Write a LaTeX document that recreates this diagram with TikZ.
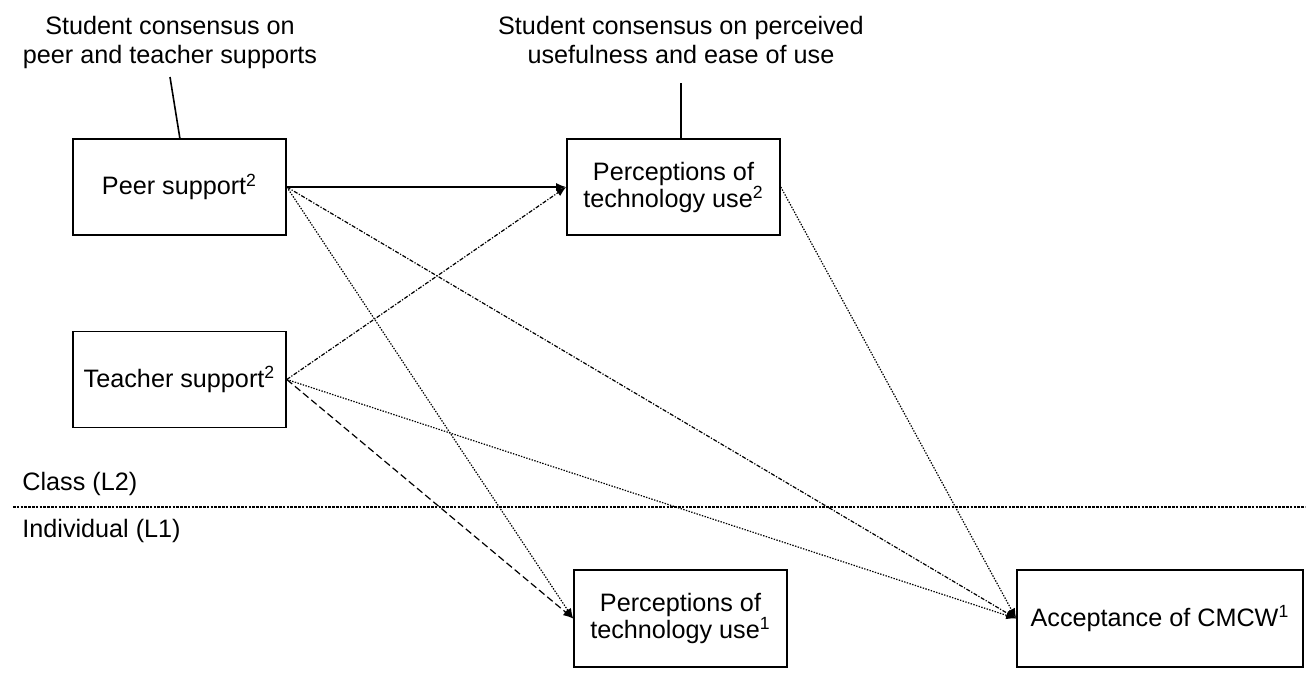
\documentclass[tikz,border=0pt]{standalone}
\usepackage{fontspec}
\setmainfont{Liberation Sans}
\usetikzlibrary{arrows.meta}
\begin{document}
\begin{tikzpicture}[x=0.5pt,y=-0.5pt,
  txt/.style={font=\fontsize{12.6}{14.5}\selectfont, inner sep=0pt, align=center},
  box/.style={draw, line width=0.8pt, minimum width=#1, minimum height=48pt,
    align=center, inner sep=0pt, font=\fontsize{12.6}{13.5}\selectfont},
  box/.default=106.5pt,
  arr/.style={-{Latex[length=5pt,width=4pt]}},
  link/.style={line width=0.8pt},
  fine/.style={line width=0.6pt, dash pattern=on 0.7pt off 0.7pt},
  dashdot/.style={line width=0.6pt, dash pattern=on 2pt off 0.8pt on 0.6pt off 0.8pt},
  dashlong/.style={line width=0.6pt, dash pattern=on 3.5pt off 1.8pt},
  sep/.style={line width=0.7pt, dash pattern=on 1.3pt off 0.6pt}
]
\useasboundingbox (0,0) rectangle (1312,677);

% text labels
\node[txt] (lab1) at (170,42) {Student consensus on\\peer and teacher supports};
\node[txt] (lab2) at (681,40) {Student consensus on perceived\\usefulness and ease of use};
\node[txt, anchor=west] (cls) at (22,484) {Class (L2)};
\node[txt, anchor=west] (ind) at (22,531) {Individual (L1)};

% boxes
\node[box] (peer) at (179.5,187) {Peer support\textsuperscript{2}};
\node[box] (teach) at (179.5,379.5) {Teacher support\textsuperscript{2}};
\node[box] (perc2) at (673.5,187) {Perceptions of\\technology use\textsuperscript{2}};
\node[box, minimum height=48.5pt] (perc1) at (680.5,618.5) {Perceptions of\\technology use\textsuperscript{1}};
\node[box=143pt, minimum height=48.5pt] (acc) at (1160,618.5) {Acceptance of CMCW\textsuperscript{1}};

% separator
\coordinate (sl) at (13,507);
\coordinate (sr) at (1305,507);
\draw[sep] (sl) -- (sr);

% consensus lines
\coordinate (c1) at (170,77);
\coordinate (c2) at (681,83);
\draw[link] (c1) -- (180,139);
\draw[link] (c2) -- (c2 |- perc2.north);

% connectors
\draw[link, arr] (peer.east) -- (perc2.west);
\draw[dashdot, arr] (teach.east) -- (perc2.west);
\draw[fine, arr] (peer.east) -- (perc1.west);
\draw[dashlong, arr] (teach.east) -- (perc1.west);
\draw[dashdot, arr] (peer.east) -- (acc.west);
\draw[fine, arr] (teach.east) -- (acc.west);
\draw[fine, arr] (perc2.east) -- (acc.west);
\end{tikzpicture}
\end{document}
